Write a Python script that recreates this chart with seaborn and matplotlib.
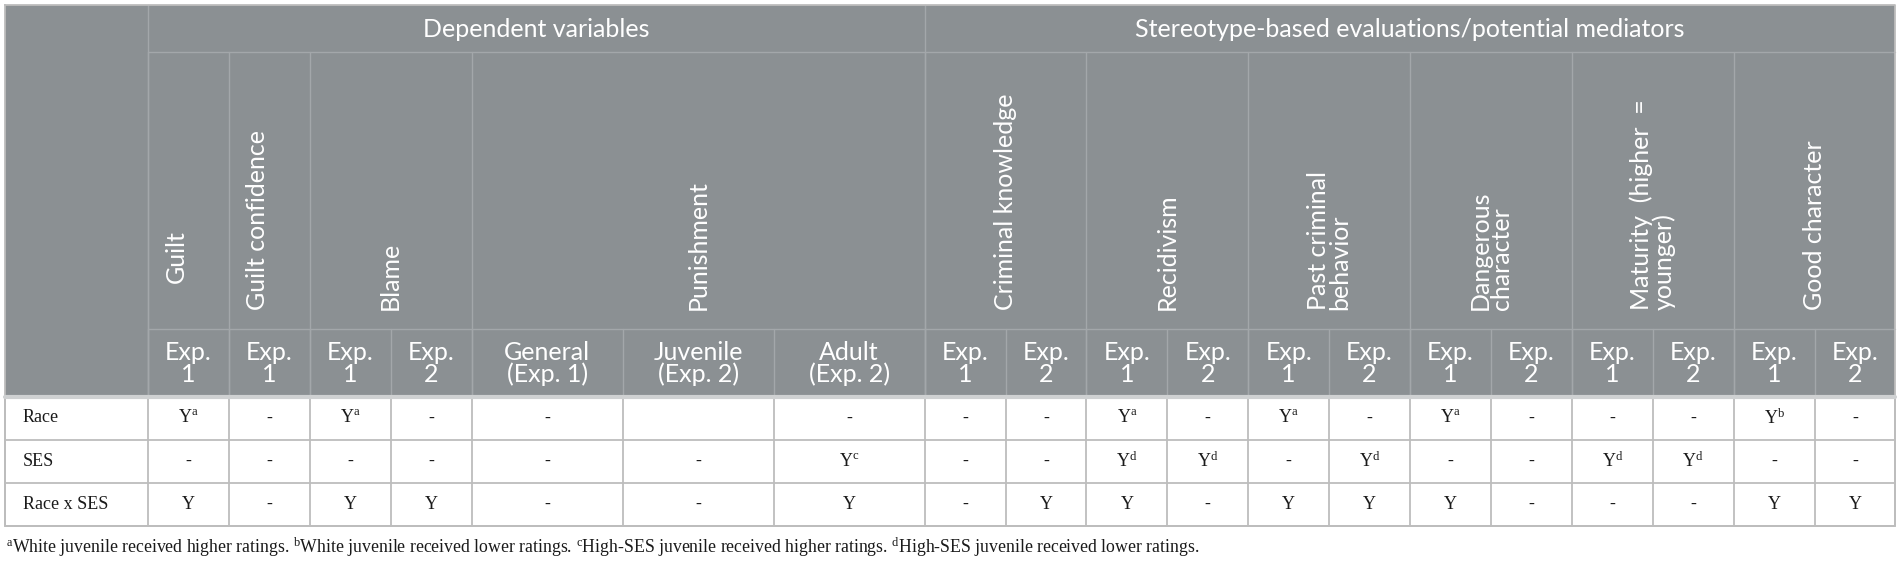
import matplotlib
matplotlib.use("Agg")
import matplotlib.pyplot as plt
import seaborn as sns

sns.set_theme(style="white")
plt.rcParams["mathtext.fontset"] = "custom"
plt.rcParams["mathtext.rm"] = "Liberation Serif"
plt.rcParams["mathtext.it"] = "Liberation Serif:italic"

# table content
groups = ["Dependent variables", "Stereotype-based evaluations/potential mediators"]
group_span = [7, 12]

measures = ["Guilt", "Guilt confidence", "Blame", "Punishment", "Criminal knowledge",
            "Recidivism", "Past criminal\nbehavior", "Dangerous\ncharacter",
            "Maturity  (higher  =\nyounger)", "Good character"]
measure_span = [1, 1, 2, 3, 2, 2, 2, 2, 2, 2]

sub_labels = ["Exp.\n1", "Exp.\n1", "Exp.\n1", "Exp.\n2",
              "General\n(Exp. 1)", "Juvenile\n(Exp. 2)", "Adult\n(Exp. 2)",
              "Exp.\n1", "Exp.\n2", "Exp.\n1", "Exp.\n2", "Exp.\n1", "Exp.\n2",
              "Exp.\n1", "Exp.\n2", "Exp.\n1", "Exp.\n2", "Exp.\n1", "Exp.\n2"]

effects = ["Race", "SES", "Race x SES"]
race = ["Y^a", "-", "Y^a", "-", "-", "", "-", "-", "-", "Y^a", "-", "Y^a", "-",
        "Y^a", "-", "-", "-", "Y^b", "-"]
ses = ["-", "-", "-", "-", "-", "-", "Y^c", "-", "-", "Y^d", "Y^d", "-", "Y^d",
       "-", "-", "Y^d", "Y^d", "-", "-"]
race_ses = ["Y", "-", "Y", "Y", "-", "-", "Y", "-", "Y", "Y", "-", "Y", "Y",
            "Y", "-", "-", "-", "Y", "Y"]
cells = [race, ses, race_ses]

footnotes = [("a", "White juvenile received higher ratings."),
             ("b", "White juvenile received lower ratings."),
             ("c", "High-SES juvenile received higher ratings."),
             ("d", "High-SES juvenile received lower ratings.")]

# layout (pixels)
W, H = 1900, 562
x0 = 5
label_w = 143
exp_w = 80.9
pun_w = 151
col_w = [label_w] + [exp_w] * 4 + [pun_w] * 3 + [exp_w] * 12
row_y = [5, 52, 329, 396, 440, 483, 526]

head_bg = "#8b9093"
head_line = "#a3a7aa"
body_line = "#bdbdbd"
sans = ["Lato", "DejaVu Sans"]
serif = ["Liberation Serif", "DejaVu Serif"]
head_fs = 18
body_fs = 13

edges = [x0]
for w in col_w:
    edges.append(edges[-1] + w)
x1 = edges[-1]


def fmt(v):
    if "^" in v:
        base, sup = v.split("^")
        return base + r"$^{\mathrm{" + sup + "}}$"
    return v


fig = plt.figure(figsize=(W / 100, H / 100), dpi=100)
ax = fig.add_axes([0, 0, 1, 1])
ax.set_xlim(0, W)
ax.set_ylim(H, 0)
ax.axis("off")

# header background
ax.fill_between([x0, x1], row_y[0], row_y[3], color=head_bg, lw=0)

# level 1: groups
start = 1
for name, span in zip(groups, group_span):
    a, b = edges[start], edges[start + span]
    ax.text((a + b) / 2, (row_y[0] + row_y[1]) / 2 + 1, name, ha="center", va="center",
            color="white", fontsize=head_fs, family=sans)
    ax.plot([a, a], [row_y[0], row_y[3]], color=head_line, lw=1)
    start += span
ax.plot([edges[1], x1], [row_y[1], row_y[1]], color=head_line, lw=1)

# level 2: measures (rotated)
start = 1
for name, span in zip(measures, measure_span):
    a, b = edges[start], edges[start + span]
    ybot = 283 if name == "Guilt" else 310
    shift = -12 if span == 1 else 0
    ax.text((a + b) / 2 + shift, ybot, name, rotation=90, ha="center", va="bottom",
            multialignment="left", color="white", fontsize=head_fs, family=sans,
            linespacing=0.95)
    ax.plot([a, a], [row_y[1], row_y[3]], color=head_line, lw=1)
    start += span
ax.plot([edges[1], x1], [row_y[2], row_y[2]], color=head_line, lw=1)

# level 3: experiment columns
for i, lab in enumerate(sub_labels):
    a, b = edges[i + 1], edges[i + 2]
    ax.text((a + b) / 2, (row_y[2] + row_y[3]) / 2 + 1, lab, ha="center", va="center",
            color="white", fontsize=head_fs, family=sans, linespacing=0.95)
    ax.plot([a, a], [row_y[2], row_y[3]], color=head_line, lw=1)

# body
for r, (eff, vals) in enumerate(zip(effects, cells)):
    ya, yb = row_y[3 + r], row_y[4 + r]
    ym = (ya + yb) / 2
    ax.text(x0 + 18, ym, eff, ha="left", va="center", fontsize=body_fs,
            family=serif, color="#1a1a1a")
    for i, v in enumerate(vals):
        a, b = edges[i + 1], edges[i + 2]
        if v:
            ax.text((a + b) / 2, ym, fmt(v), ha="center", va="center",
                    fontsize=body_fs, family=serif, color="#1a1a1a")
    ax.plot([x0, x1], [yb, yb], color=body_line, lw=1.3)
for e in edges:
    ax.plot([e, e], [row_y[3], row_y[-1]], color=body_line, lw=1.3)

# outer frame and header/body divider
ax.plot([x0, x1, x1, x0, x0], [row_y[0], row_y[0], row_y[-1], row_y[-1], row_y[0]],
        color=body_line, lw=1.3)
ax.plot([x0, x1], [row_y[3] + 1, row_y[3] + 1], color="#cfd1d2", lw=3)

# footnote
note = " ".join(r"$^{\mathrm{" + k + "}}$" + t for k, t in footnotes)
ax.text(x0 + 1, 547, note, ha="left", va="center", fontsize=12.8, family=serif,
        color="#1a1a1a")

fig.savefig("out.png", dpi=100)
